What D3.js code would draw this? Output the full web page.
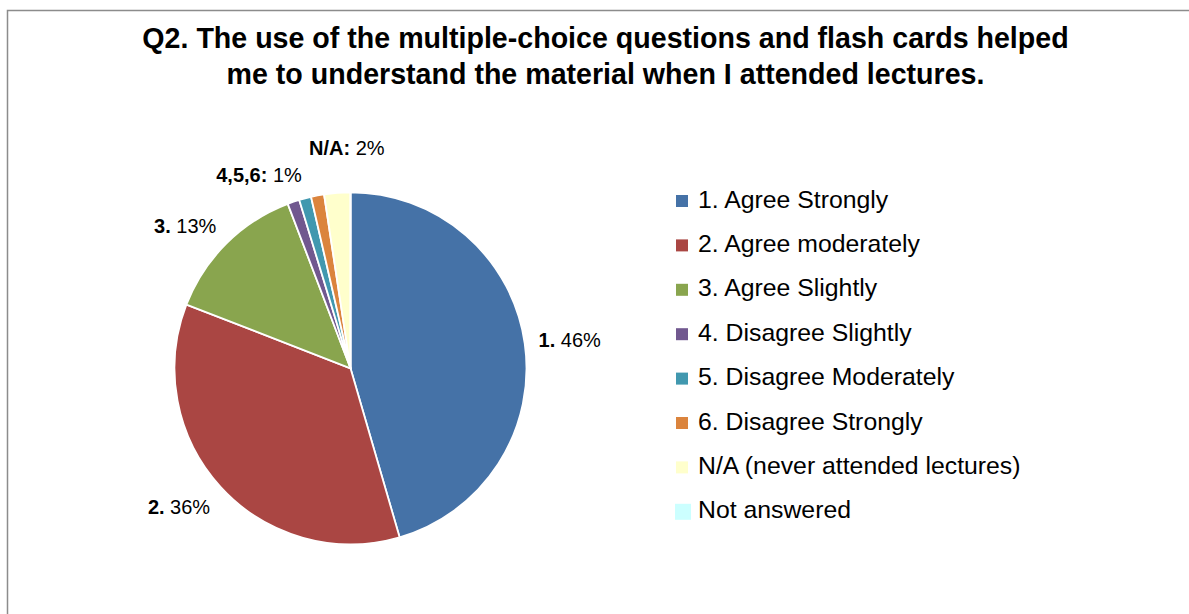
<!DOCTYPE html>
<html>
<head>
<meta charset="utf-8">
<script src="https://cdn.jsdelivr.net/npm/d3@7"></script>
<style>
  html, body { margin: 0; padding: 0; background: #fff; }
  svg { display: block; }
  text { font-family: "Liberation Sans", Arial, Helvetica, sans-serif; fill: #000; }
</style>
</head>
<body>
<svg id="chart" width="1189" height="614"></svg>
<script>
// ---- data ----
const titleLines = [
  "Q2. The use of the multiple-choice questions and flash cards helped",
  "me to understand the material when I attended lectures."
];
const categories = [
  "1. Agree Strongly",
  "2. Agree moderately",
  "3. Agree Slightly",
  "4. Disagree Slightly",
  "5. Disagree Moderately",
  "6. Disagree Strongly",
  "N/A (never attended lectures)",
  "Not answered"
];
const values = [45.5, 35.4, 13.3, 1.1, 1.1, 1.2, 2.4, 0];
const colors = ["#4572A7", "#AA4643", "#89A54E", "#71588F", "#4198AF", "#DB843D", "#FFFFCC", "#CCFFFF"];
// data labels: bold prefix, value text, slice indices they refer to
const labelPrefixes = ["1.", "2.", "3.", "4,5,6:", "N/A:"];
const labelValues = ["46%", "36%", "13%", "1%", "2%"];
const labelSlices = [[0], [1], [2], [3, 4, 5], [6]];

// ---- layout ----
const svg = d3.select("#chart");
const W = 1189, H = 614;
const cx = 350.5, cy = 368.3, R = 176;

// outer frame
svg.append("rect")
  .attr("x", 7.5).attr("y", 10.5)
  .attr("width", W + 20).attr("height", H + 20)
  .attr("fill", "#fff").attr("stroke", "#8c8c8c").attr("stroke-width", 1.5);

// title
svg.append("g").selectAll("text").data(titleLines).join("text")
  .attr("x", 605.5).attr("y", (d, i) => 48 + i * 35.5)
  .attr("text-anchor", "middle")
  .style("font-size", "28.6px").style("font-weight", "bold")
  .text(d => d);

// pie
const pie = d3.pie().sort(null).value(d => d);
const arcs = pie(values);
const arc = d3.arc().innerRadius(0).outerRadius(R);
const g = svg.append("g").attr("transform", `translate(${cx},${cy})`);
g.selectAll("path").data(arcs).join("path")
  .attr("d", arc)
  .attr("fill", (d, i) => colors[i])
  .attr("stroke", "#fff").attr("stroke-width", 1.8).attr("stroke-linejoin", "round");

// data labels (outside end, Excel-like placement)
const lblG = svg.append("g");
const placed = [];
labelSlices.forEach((idx, k) => {
  const a0 = arcs[idx[0]].startAngle, a1 = arcs[idx[idx.length - 1]].endAngle;
  const m = (a0 + a1) / 2;
  const rr = R + 14;
  const px = cx + rr * Math.sin(m), py = cy - rr * Math.cos(m);
  const t = lblG.append("text").style("font-size", "20px");
  t.append("tspan").style("font-weight", "bold").text(labelPrefixes[k]);
  t.append("tspan").text(" " + labelValues[k]);
  const bb = t.node().getBBox();
  const w = bb.width, h = 20;
  let bx = px + (Math.sin(m) >= 0 ? 0 : -w);     // left edge
  let by = py - h / 2 - (h / 2) * Math.cos(m);   // top edge
  if (Math.cos(m) < 0) by += 4;                  // lower-half labels sit a bit lower
  // simple collision avoidance: move up and to the right of the previous label
  const prev = placed[placed.length - 1];
  if (prev && bx < prev.x + prev.w && bx + w > prev.x && by < prev.y + prev.h && by + h > prev.y) {
    by = prev.y - h - 7;
    bx = prev.x + prev.w + 7;
  }
  placed.push({ x: bx, y: by, w: w, h: h });
  t.attr("x", bx).attr("y", by + h / 2).attr("dominant-baseline", "central");
});

// legend
const legG = svg.append("g");
const rowY = i => 199 + i * 44.4;
const leg = legG.selectAll("g").data(categories).join("g");
leg.append("rect")
  .attr("x", (d, i) => i === categories.length - 1 ? 675 : 676)
  .attr("y", (d, i) => rowY(i) + 2 - (i === categories.length - 1 ? 8 : 6))
  .attr("width", (d, i) => i === categories.length - 1 ? 16 : 12)
  .attr("height", (d, i) => i === categories.length - 1 ? 16 : 12)
  .attr("fill", (d, i) => colors[i]);
leg.append("text")
  .attr("x", 698).attr("y", (d, i) => rowY(i))
  .attr("dominant-baseline", "central")
  .style("font-size", "24.8px")
  .text(d => d);
</script>
</body>
</html>
